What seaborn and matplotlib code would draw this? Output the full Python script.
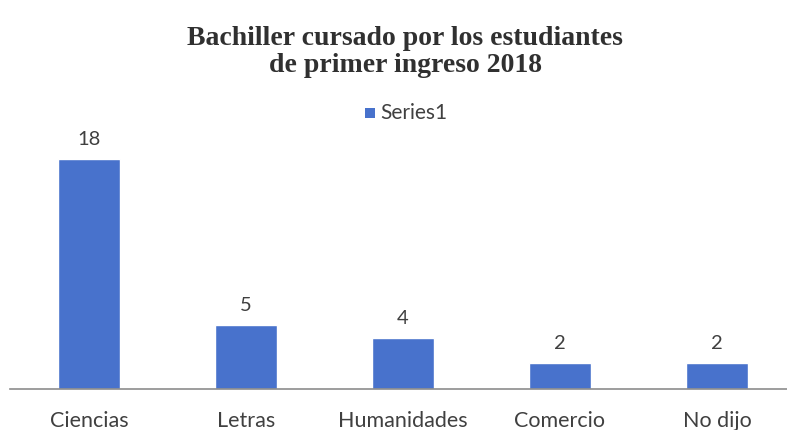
import matplotlib
matplotlib.use("Agg")
import matplotlib.pyplot as plt
import pandas as pd
import seaborn as sns

# data
categorias = ['Ciencias', 'Letras', 'Humanidades', 'Comercio', 'No dijo']
valores = [18, 5, 4, 2, 2]
serie = 'Series1'

barColor = '#4872CC'
textColor = '#404040'

sns.set_style('white')
plt.rcParams['font.family'] = ['Lato', 'DejaVu Sans']

df = pd.DataFrame({'bachiller': categorias, 'n': valores, 'serie': serie})

fig = plt.figure(figsize=(7.87, 4.30), dpi=100)
ax = fig.add_axes([0.0133, 0.0953, 0.9975, 0.595])

sns.barplot(data=df, x='bachiller', y='n', hue='serie', palette=[barColor],
            width=0.4, ax=ax, legend=False, saturation=1)

for cont in ax.containers:
    ax.bar_label(cont, labels=[str(v) for v in valores], padding=8,
                 fontsize=14.5, color=textColor)

ax.set_ylim(0, 20)
ax.set_xlim(-0.5, 4.5)
ax.set_yticks([])
ax.set_xlabel('')
ax.set_ylabel('')
for s in ['top', 'left', 'right']:
    ax.spines[s].set_visible(False)
ax.spines['bottom'].set_color('#8c8c8c')
ax.spines['bottom'].set_linewidth(1.2)
ax.tick_params(axis='x', length=0, pad=16, labelsize=15.5, labelcolor=textColor)

fig.text(0.515, 0.880, 'Bachiller cursado por los estudiantes\nde primer ingreso 2018',
         ha='center', va='center', fontsize=20, fontweight='bold',
         family='Liberation Serif', color='#303030', linespacing=1.1)

# legend
fig.patches.append(plt.Rectangle((0.4638, 0.7256), 0.0127, 0.023, transform=fig.transFigure,
                                 facecolor=barColor, edgecolor='none'))
fig.text(0.483, 0.737, serie, ha='left', va='center', fontsize=15, color=textColor)

plt.savefig('out.png', dpi=100)
plt.close('all')
